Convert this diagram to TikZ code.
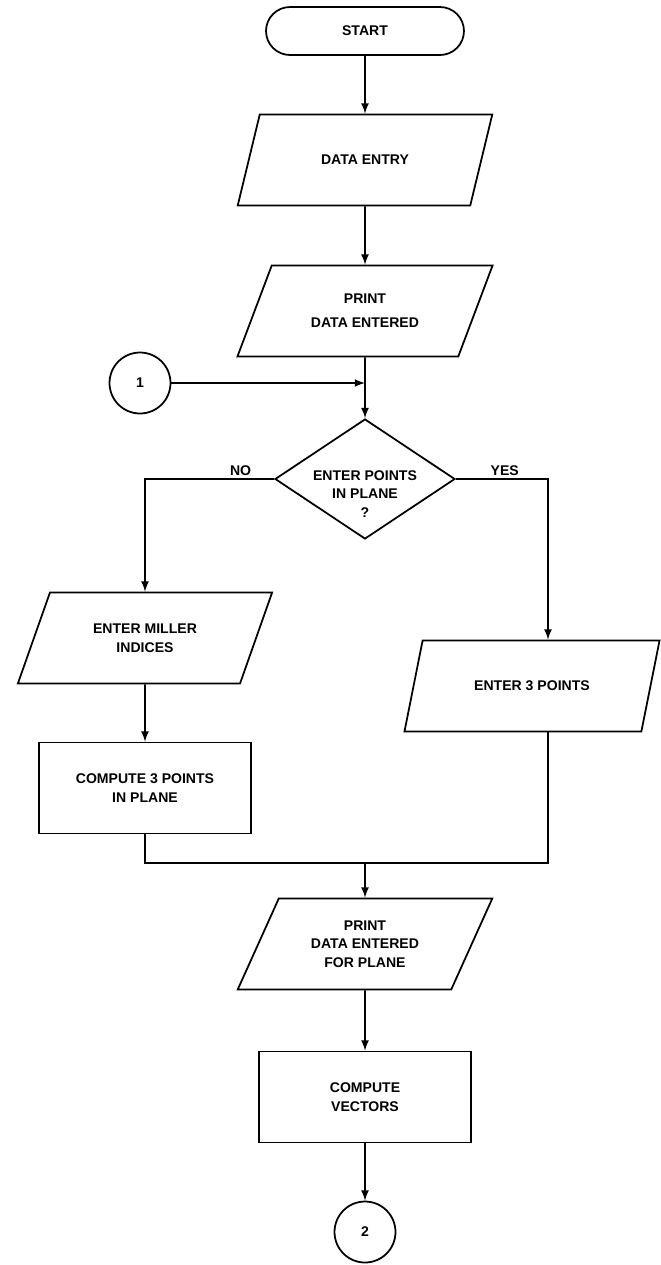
\documentclass[tikz,border=0pt]{standalone}
\usepackage{fontspec}
\setmainfont{Liberation Sans}
\usetikzlibrary{shapes.geometric}
\tikzstyle{terminal}=[draw, rectangle, rounded corners=0.48cm, minimum width=3.96cm, minimum height=0.96cm, line width=1pt]
\tikzstyle{io}=[draw, trapezium, trapezium left angle=64, trapezium right angle=116, trapezium stretches=true, minimum width=5.12cm, minimum height=1.82cm, line width=1pt, align=center]
\tikzstyle{process}=[draw, rectangle, minimum width=4.24cm, minimum height=1.82cm, line width=1pt, align=center]
\tikzstyle{decision}=[draw, diamond, aspect=1.5, minimum width=3.6cm, minimum height=2.4cm, inner sep=0pt, line width=1pt]
\tikzstyle{connector}=[draw, circle, minimum size=1.22cm, inner sep=0pt, line width=1pt]
\tikzstyle{flowline}=[-latex, line width=1pt]
\tikzstyle{branch}=[above, inner sep=1.5pt]

\begin{document}
\begin{tikzpicture}[x=0.02cm, y=-0.02cm, font=\fontsize{8}{10.5}\selectfont\bfseries]
  \useasboundingbox (0,0) rectangle (661,1265);

  %% main column
  \draw (365,31) node[terminal] (start) {START};
  \draw (365,160) node[io] (entry) {DATA ENTRY};
  \draw (365,311) node[io] (print) {PRINT\\[3pt]DATA ENTERED};
  \draw (365,479) node[decision] (ask) {};
  \node[align=center] (askText) at ([yshift=-0.3cm]ask.center) {ENTER POINTS\\IN PLANE\\?};
  \draw (140,383) node[connector] (c1) {1};

  %% branches
  \draw (145,638) node[io] (miller) {ENTER MILLER\\INDICES};
  \draw (145,788) node[process] (compute3) {COMPUTE 3 POINTS\\IN PLANE};
  \draw (532,686) node[io] (points) {ENTER 3 POINTS};

  %% after the merge
  \draw (365,944) node[io] (printplane) {PRINT\\DATA ENTERED\\FOR PLANE};
  \draw (365,1097) node[process] (vectors) {COMPUTE\\VECTORS};
  \draw (365,1232) node[connector] (c2) {2};

  \coordinate (meet) at (365,383);
  \coordinate (nocorner) at (145,479);
  \coordinate (yescorner) at (548,479);
  \coordinate (join) at (365,863);

  \draw[flowline] (start) -- (entry);
  \draw[flowline] (entry) -- (print);
  \draw[flowline] (print.south) -- (ask.north);
  \draw[flowline] (c1) -- (meet);

  \draw[flowline] (ask.west) -- node[branch, pos=0.26] {NO} (nocorner) -- (miller.north);
  \draw[flowline] (ask.east) -- node[branch, pos=0.53] {YES} (yescorner) -- (yescorner |- points.north);
  \draw[flowline] (miller.south) -- (compute3.north);

  \draw[line width=1pt] (compute3.south) |- (join) -| (points.south -| yescorner);
  \draw[flowline] (join) -- (printplane.north);
  \draw[flowline] (printplane.south) -- (vectors.north);
  \draw[flowline] (vectors.south) -- (c2);
\end{tikzpicture}
\end{document}
